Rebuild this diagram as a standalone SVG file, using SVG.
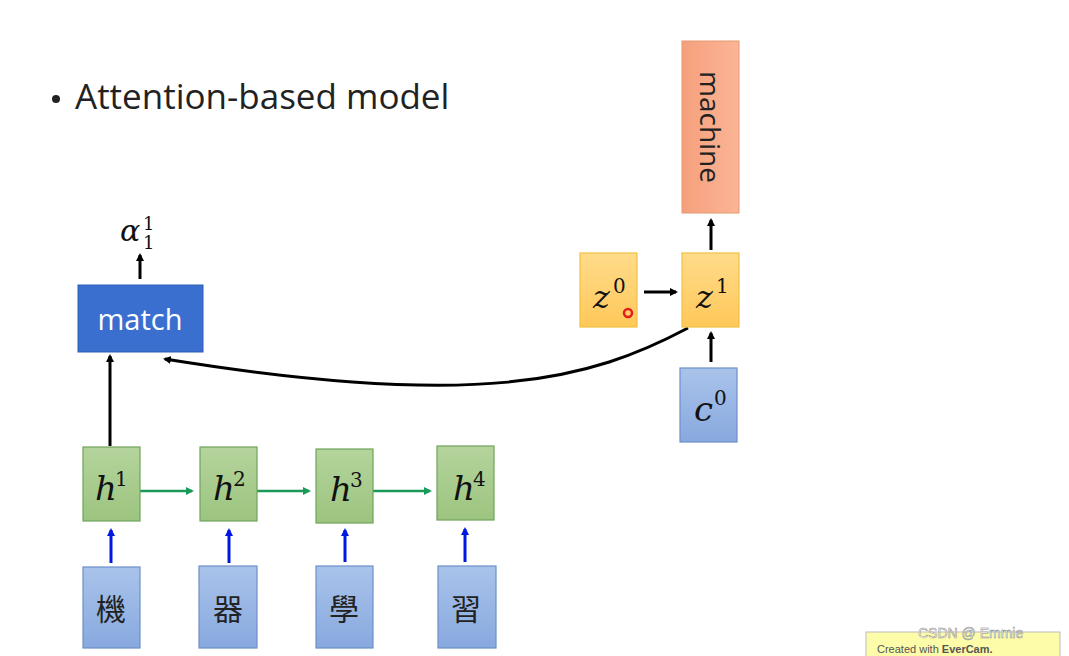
<svg xmlns="http://www.w3.org/2000/svg" width="1069" height="656" viewBox="0 0 1069 656">
<style>
.math{font-family:"DejaVu Serif","Liberation Serif",serif;font-style:italic;fill:#111}
.sup{font-family:"DejaVu Serif","Liberation Serif",serif;fill:#111}
.green{fill:url(#gg);stroke:#6fa35a;stroke-width:1.2}
.blue{fill:url(#gb);stroke:#6c8fc9;stroke-width:1.2}
.yel{fill:url(#gy);stroke:#f2c040;stroke-width:1.2}
.cjk{font-family:"Noto Sans CJK TC",sans-serif;font-size:30px;fill:#222}
</style>
<defs>
<linearGradient id="gg" x1="0" y1="0" x2="0" y2="1"><stop offset="0" stop-color="#b4d49c"/><stop offset="1" stop-color="#9cc47f"/></linearGradient>
<linearGradient id="gb" x1="0" y1="0" x2="0" y2="1"><stop offset="0" stop-color="#a9c3ea"/><stop offset="1" stop-color="#88a9df"/></linearGradient>
<linearGradient id="gy" x1="0" y1="0" x2="0" y2="1"><stop offset="0" stop-color="#ffdb8a"/><stop offset="1" stop-color="#ffc85a"/></linearGradient>
<linearGradient id="go" x1="0" y1="0" x2="1" y2="0"><stop offset="0" stop-color="#f5a07c"/><stop offset="1" stop-color="#fbb596"/></linearGradient>
<marker id="ak" markerWidth="8" markerHeight="8" refX="6" refY="4" orient="auto" markerUnits="userSpaceOnUse"><path d="M0,0 L8,4 L0,8 z" fill="#000"/></marker>
<marker id="ab" markerWidth="8" markerHeight="8" refX="6" refY="4" orient="auto" markerUnits="userSpaceOnUse"><path d="M0,0 L8,4 L0,8 z" fill="#0018e0"/></marker>
<marker id="ag" markerWidth="8" markerHeight="8" refX="6" refY="4" orient="auto" markerUnits="userSpaceOnUse"><path d="M0,0 L8,4 L0,8 z" fill="#1a9a5a"/></marker>
</defs>
<rect width="1069" height="656" fill="#fff"/>
<g id="title"><circle cx="56" cy="99" r="4" fill="#222"/><text x="75" y="109" font-family="Open Sans, Liberation Sans, sans-serif" font-size="35" fill="#222">Attention-based model</text></g>
<g id="connectors" fill="none">
<line x1="140" y1="279" x2="140" y2="255" stroke="#000" stroke-width="3" marker-end="url(#ak)"/>
<line x1="110" y1="446" x2="110" y2="356" stroke="#000" stroke-width="3" marker-end="url(#ak)"/>
<path d="M688,328 C590,380 480,410 165,359" stroke="#000" stroke-width="3" marker-end="url(#ak)"/>
<line x1="644" y1="292" x2="676" y2="292" stroke="#000" stroke-width="3" marker-end="url(#ak)"/>
<line x1="711" y1="250" x2="711" y2="220" stroke="#000" stroke-width="3" marker-end="url(#ak)"/>
<line x1="711" y1="362" x2="711" y2="333" stroke="#000" stroke-width="3" marker-end="url(#ak)"/>
<line x1="140" y1="491" x2="192" y2="491" stroke="#1a9a5a" stroke-width="2.5" marker-end="url(#ag)"/>
<line x1="257" y1="491" x2="309" y2="491" stroke="#1a9a5a" stroke-width="2.5" marker-end="url(#ag)"/>
<line x1="373" y1="491" x2="430" y2="491" stroke="#1a9a5a" stroke-width="2.5" marker-end="url(#ag)"/>
<line x1="111" y1="563" x2="111" y2="530" stroke="#0018e0" stroke-width="3" marker-end="url(#ab)"/>
<line x1="229" y1="563" x2="229" y2="530" stroke="#0018e0" stroke-width="3" marker-end="url(#ab)"/>
<line x1="345" y1="562" x2="345" y2="530" stroke="#0018e0" stroke-width="3" marker-end="url(#ab)"/>
<line x1="465" y1="562" x2="465" y2="529" stroke="#0018e0" stroke-width="3" marker-end="url(#ab)"/>
</g>
<g id="alpha"><text x="120" y="241" class="math" font-size="30">α</text><text x="143" y="230" class="sup" font-size="18">1</text><text x="143" y="249" class="sup" font-size="18">1</text></g>
<g id="match"><rect x="78" y="285" width="125" height="67" fill="#3a6fcf" stroke="#2d5fb5"/><text x="140" y="330" text-anchor="middle" font-family="Open Sans, Liberation Sans, sans-serif" font-size="29" fill="#fff">match</text></g>
<g id="h1"><rect x="83" y="447" width="57" height="74" class="green"/><text x="95" y="500" class="math" font-size="34">h</text><text x="115" y="486" class="sup" font-size="20">1</text></g>
<g id="h2"><rect x="200" y="447" width="57" height="74" class="green"/><text x="213" y="500" class="math" font-size="34">h</text><text x="233" y="486" class="sup" font-size="20">2</text></g>
<g id="h3"><rect x="316" y="449" width="57" height="74" class="green"/><text x="330" y="501" class="math" font-size="34">h</text><text x="350" y="487" class="sup" font-size="20">3</text></g>
<g id="h4"><rect x="437" y="446" width="57" height="74" class="green"/><text x="453" y="500" class="math" font-size="34">h</text><text x="473" y="486" class="sup" font-size="20">4</text></g>
<g id="x1"><rect x="83" y="567" width="57" height="81" class="blue"/><text x="111" y="620" text-anchor="middle" class="cjk">機</text></g>
<g id="x2"><rect x="199" y="566" width="58" height="82" class="blue"/><text x="228" y="620" text-anchor="middle" class="cjk">器</text></g>
<g id="x3"><rect x="316" y="566" width="57" height="82" class="blue"/><text x="344" y="620" text-anchor="middle" class="cjk">學</text></g>
<g id="x4"><rect x="438" y="566" width="58" height="82" class="blue"/><text x="466" y="620" text-anchor="middle" class="cjk">習</text></g>
<g id="z0"><rect x="580" y="253" width="57" height="74" class="yel"/><text x="593" y="308" class="math" font-size="32">z</text><text x="613" y="293" class="sup" font-size="20">0</text><circle cx="628" cy="313" r="4" fill="none" stroke="#e02020" stroke-width="2.5"/></g>
<g id="z1"><rect x="682" y="253" width="57" height="74" class="yel"/><text x="696" y="308" class="math" font-size="32">z</text><text x="716" y="293" class="sup" font-size="20">1</text></g>
<g id="c0"><rect x="680" y="368" width="57" height="74" class="blue"/><text x="694" y="421" class="math" font-size="34">c</text><text x="714" y="405" class="sup" font-size="20">0</text></g>
<g id="machine"><rect x="682" y="41" width="57" height="172" fill="url(#go)" stroke="#e59a70"/><text transform="translate(700,127) rotate(90)" text-anchor="middle" font-family="Open Sans, Liberation Sans, sans-serif" font-size="28" fill="#222">machine</text></g>
<g id="watermark"><rect x="866" y="632" width="194" height="30" fill="#fdfca8" stroke="#bbb"/><text x="877" y="653" font-family="Liberation Sans, sans-serif" font-size="11" fill="#555">Created with <tspan font-weight="bold">EverCam.</tspan></text><text x="918" y="638" font-family="Liberation Sans, sans-serif" font-size="14" fill="#fff" stroke="#888" stroke-width="0.5">CSDN @ Emmie</text></g>
</svg>
